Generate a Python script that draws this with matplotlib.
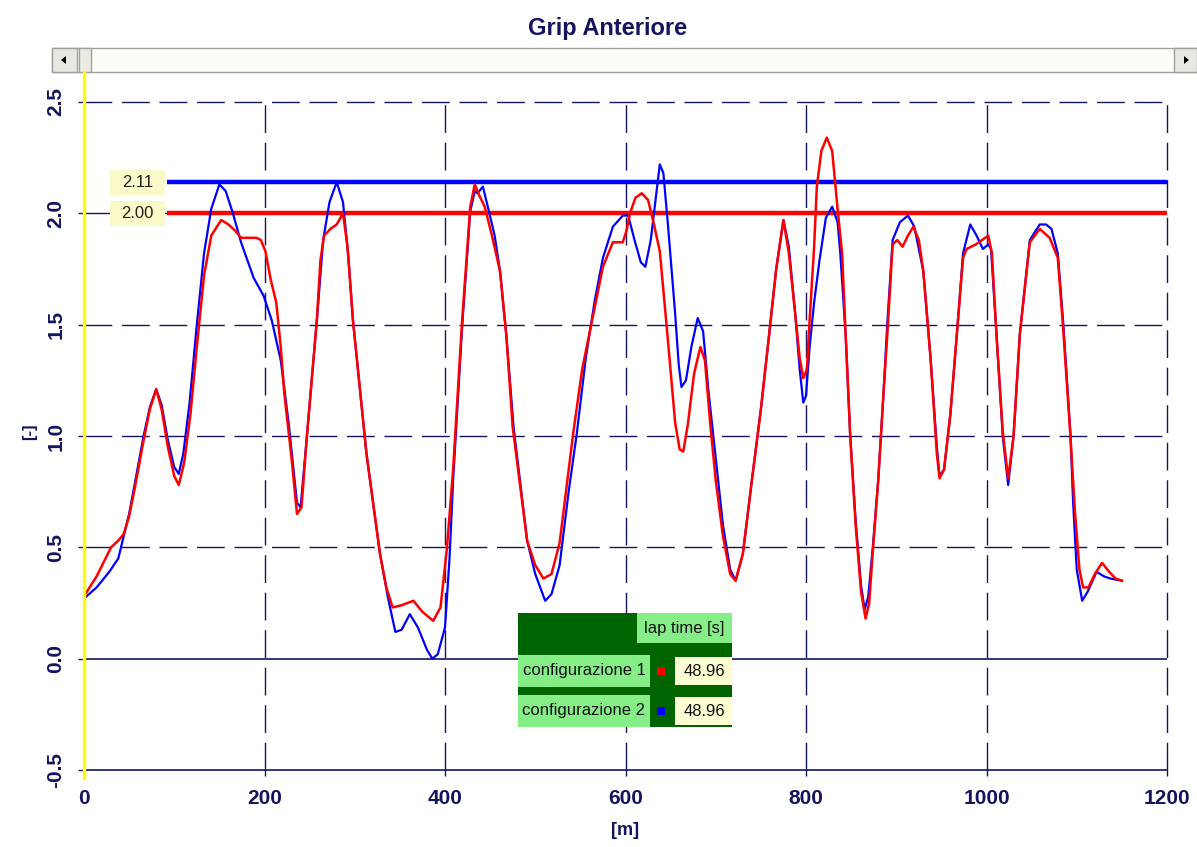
import numpy as np
import matplotlib
matplotlib.use('Agg')
import matplotlib.pyplot as plt
from matplotlib.patches import Rectangle, Polygon

plt.rcParams['font.family'] = ['Liberation Sans', 'DejaVu Sans']

# configurazione 2 (blue)
dist_blue = [0, 14, 28, 38, 44, 50, 56, 66, 73, 80, 86, 93, 100, 105, 110, 117, 125, 133,
             141, 150, 157, 165, 174, 181, 188, 199, 208, 218, 227, 236, 240, 247, 258,
             265, 272, 280, 287, 293, 298, 313, 328, 337, 345, 352, 361, 370, 380, 386,
             392, 400, 405, 409, 419, 428, 433, 436, 442, 448, 455, 461, 468, 476, 491,
             500, 511, 518, 527, 537, 546, 556, 566, 575, 586, 597, 603, 610, 617, 622,
             628, 633, 638, 642, 647, 651, 655, 659, 662, 667, 673, 680, 686, 692, 700,
             708, 716, 722, 730, 740, 750, 759, 767, 775, 781, 788, 793, 797, 800, 804,
             809, 815, 822, 829, 835, 838, 844, 849, 855, 861, 865, 869, 874, 880, 886,
             890, 896, 904, 913, 920, 930, 938, 945, 948, 953, 960, 968, 974, 982, 989,
             996, 1002, 1005, 1011, 1018, 1024, 1030, 1037, 1048, 1059, 1066, 1072, 1079,
             1085, 1093, 1096, 1100, 1106, 1112, 1122, 1130, 1137, 1150]
grip_blue = [0.27, 0.32, 0.39, 0.45, 0.55, 0.65, 0.78, 1.00, 1.13, 1.21, 1.14, 0.98, 0.86,
             0.83, 0.92, 1.15, 1.50, 1.82, 2.02, 2.13, 2.10, 2.00, 1.87, 1.79, 1.71, 1.63,
             1.52, 1.34, 1.05, 0.70, 0.68, 1.00, 1.52, 1.88, 2.05, 2.14, 2.05, 1.80, 1.52,
             0.92, 0.47, 0.27, 0.12, 0.13, 0.20, 0.14, 0.04, 0.00, 0.02, 0.14, 0.45, 0.80,
             1.49, 2.01, 2.10, 2.09, 2.12, 2.02, 1.90, 1.74, 1.45, 1.04, 0.53, 0.38, 0.26,
             0.29, 0.42, 0.75, 1.01, 1.35, 1.61, 1.80, 1.94, 1.99, 1.99, 1.88, 1.78, 1.76,
             1.88, 2.05, 2.22, 2.18, 1.95, 1.75, 1.55, 1.32, 1.22, 1.25, 1.40, 1.53, 1.47,
             1.20, 0.90, 0.60, 0.40, 0.35, 0.47, 0.80, 1.12, 1.45, 1.75, 1.97, 1.85, 1.55,
             1.30, 1.15, 1.18, 1.40, 1.60, 1.79, 1.98, 2.03, 1.96, 1.82, 1.45, 1.00, 0.62,
             0.33, 0.22, 0.28, 0.50, 0.80, 1.20, 1.50, 1.88, 1.96, 1.99, 1.94, 1.74, 1.35,
             0.95, 0.82, 0.85, 1.10, 1.50, 1.82, 1.95, 1.90, 1.84, 1.86, 1.84, 1.46, 1.00,
             0.78, 1.00, 1.46, 1.88, 1.95, 1.95, 1.93, 1.82, 1.51, 1.01, 0.70, 0.40, 0.26,
             0.30, 0.39, 0.37, 0.36, 0.35]

# configurazione 1 (red)
dist_red = [0, 14, 30, 38, 44, 50, 56, 66, 73, 80, 86, 93, 100, 105, 111, 118, 125, 133,
            141, 152, 160, 168, 174, 182, 191, 196, 201, 207, 213, 218, 222, 230, 236, 241,
            247, 258, 262, 266, 273, 280, 287, 292, 298, 313, 328, 335, 342, 352, 365, 375,
            387, 395, 402, 409, 419, 428, 433, 438, 444, 452, 461, 468, 475, 491, 500, 509,
            518, 527, 535, 542, 552, 566, 575, 586, 597, 601, 605, 611, 618, 625, 631, 638,
            647, 655, 660, 664, 669, 676, 683, 688, 694, 700, 708, 716, 722, 730, 740, 750,
            759, 767, 775, 781, 788, 793, 797, 801, 804, 809, 812, 817, 823, 829, 835, 840,
            844, 849, 855, 861, 866, 870, 874, 880, 886, 890, 896, 901, 907, 913, 919, 925,
            930, 938, 945, 948, 953, 960, 968, 974, 978, 988, 995, 1002, 1006, 1011, 1018,
            1024, 1030, 1037, 1048, 1059, 1070, 1079, 1085, 1093, 1098, 1103, 1107, 1113,
            1120, 1128, 1136, 1143, 1150]
grip_red = [0.28, 0.37, 0.50, 0.53, 0.56, 0.64, 0.76, 0.98, 1.12, 1.21, 1.12, 0.95, 0.82,
            0.78, 0.88, 1.10, 1.40, 1.72, 1.90, 1.97, 1.95, 1.92, 1.89, 1.89, 1.89, 1.88,
            1.83, 1.70, 1.60, 1.40, 1.19, 0.90, 0.65, 0.68, 1.00, 1.52, 1.79, 1.90, 1.93,
            1.95, 2.00, 1.85, 1.52, 0.92, 0.47, 0.32, 0.23, 0.24, 0.26, 0.21, 0.17, 0.23,
            0.49, 0.85, 1.52, 2.03, 2.13, 2.08, 2.03, 1.90, 1.74, 1.45, 1.04, 0.53, 0.42,
            0.36, 0.38, 0.52, 0.78, 1.01, 1.30, 1.58, 1.76, 1.87, 1.87, 1.92, 2.00, 2.07,
            2.09, 2.06, 1.96, 1.83, 1.43, 1.06, 0.94, 0.93, 1.05, 1.28, 1.40, 1.34, 1.05,
            0.80, 0.55, 0.38, 0.35, 0.47, 0.80, 1.12, 1.45, 1.75, 1.97, 1.82, 1.55, 1.35,
            1.26, 1.30, 1.52, 1.85, 2.12, 2.28, 2.34, 2.28, 2.02, 1.82, 1.45, 1.00, 0.60,
            0.30, 0.18, 0.25, 0.48, 0.80, 1.20, 1.45, 1.86, 1.88, 1.85, 1.90, 1.94, 1.88,
            1.74, 1.35, 0.92, 0.81, 0.85, 1.10, 1.50, 1.80, 1.84, 1.86, 1.88, 1.90, 1.82,
            1.46, 1.02, 0.81, 1.00, 1.46, 1.87, 1.93, 1.89, 1.80, 1.48, 1.00, 0.66, 0.40,
            0.32, 0.32, 0.38, 0.43, 0.39, 0.36, 0.35]

max_levels = [2.14, 2.00]
max_labels = ['2.11', '2.00']
max_colors = ['#0000ff', '#ff0000']

config_names = ['configurazione 1', 'configurazione 2']
config_colors = ['#ff0000', '#0000ff']
lap_times = ['48.96', '48.96']

xticks = [0, 200, 400, 600, 800, 1000, 1200]
yticks = [-0.5, 0.0, 0.5, 1.0, 1.5, 2.0, 2.5]

navy = '#14145f'
W, H = 1197, 847
fig = plt.figure(figsize=(W / 100, H / 100), dpi=100)
ax = fig.add_axes([84 / W, (H - 770) / H, 1083 / W, 668 / H])
ax.set_xlim(0, 1200)
ax.set_ylim(-0.5, 2.5)

# grid
for x in xticks[1:]:
    ax.axvline(x, color=navy, lw=1.0, ls=(0, (20, 7)), zorder=1, clip_on=False)
for y in yticks[2:]:
    ax.axhline(y, color=navy, lw=1.0, ls=(0, (20, 7)), zorder=1, clip_on=False)
ax.axhline(0.0, color=navy, lw=1.2, zorder=1)

for s in ['top', 'right', 'left']:
    ax.spines[s].set_visible(False)
ax.spines['bottom'].set_color(navy)
ax.spines['bottom'].set_linewidth(1.2)

ax.set_xticks(xticks)
ax.set_yticks(yticks)
ax.set_xticklabels([str(v) for v in xticks])
ax.set_yticklabels(['%.1f' % v for v in yticks], rotation=90, va='center')
ax.tick_params(axis='both', colors=navy, length=4.5, width=1.0, labelsize=15)
ax.tick_params(axis='x', pad=9)
ax.tick_params(axis='y', pad=9)
for lab in ax.get_xticklabels() + ax.get_yticklabels():
    lab.set_fontweight('bold')
    lab.set_color(navy)

# max lines with value boxes
for lvl, lab, col in zip(max_levels, max_labels, max_colors):
    ax.plot([92, 1200], [lvl, lvl], color=col, lw=3.2, zorder=3, solid_capstyle='butt')
    ax.add_patch(Rectangle((29, lvl - 0.056), 61, 0.112, fc='#fafac8', ec='none', zorder=5))
    ax.text(59, lvl, lab, ha='center', va='center', fontsize=12, color='#222222', zorder=6)

ax.plot(dist_blue, grip_blue, color='#0000ff', lw=1.6, zorder=4)
ax.plot(dist_red, grip_red, color='#ff0000', lw=1.8, zorder=4)

ax.set_xlabel('[m]', fontsize=13, fontweight='bold', color=navy)
ax.set_ylabel('[-]', fontsize=12, fontweight='bold', color=navy)
ax.xaxis.set_label_coords((625 - 84) / 1083, (770 - 822) / 668)
ax.yaxis.set_label_coords((37 - 84) / 1083, (770 - 432) / 668)

# overlay in pixel coordinates for title, scrollbar and lap-time table
ov = fig.add_axes([0, 0, 1, 1], zorder=10)
ov.set_xlim(0, W)
ov.set_ylim(H, 0)
ov.axis('off')

ov.text(608, 29, 'Grip Anteriore', ha='center', va='center', fontsize=17,
        fontweight='bold', color=navy)

# scrollbar
ov.add_patch(Rectangle((52, 48), 1145, 24, fc='#fdfdf8', ec='#a0a0a0', lw=1))
ov.add_patch(Rectangle((52, 48), 25, 24, fc='#e8e8e0', ec='#a0a0a0', lw=1))
ov.add_patch(Rectangle((79, 48), 12, 24, fc='#ecece4', ec='#a0a0a0', lw=1))
ov.add_patch(Rectangle((1174, 48), 23, 24, fc='#e8e8e0', ec='#a0a0a0', lw=1))
ov.add_patch(Polygon([[61, 60], [66, 56], [66, 64]], fc='black', ec='none'))
ov.add_patch(Polygon([[1189, 60], [1184, 56], [1184, 64]], fc='black', ec='none'))

# yellow cursor at x = 0
ov.plot([84, 84], [72, 778], color='#ffff00', lw=2.4)

# lap time table
ov.add_patch(Rectangle((518, 613), 214, 114, fc='#006400', ec='none'))
ov.add_patch(Rectangle((637, 613), 95, 30, fc='#86ee86', ec='none'))
ov.text(684, 628, 'lap time [s]', ha='center', va='center', fontsize=12, color='#111111')
for i, (name, col, t) in enumerate(zip(config_names, config_colors, lap_times)):
    y0 = 655 + i * 40
    ov.add_patch(Rectangle((518, y0), 132, 32, fc='#86ee86', ec='none'))
    ov.text(584, y0 + 16, name, ha='center', va='center', fontsize=12, color='#111111')
    ov.add_patch(Rectangle((657, y0 + 12), 8, 8, fc=col, ec='none'))
    ov.add_patch(Rectangle((675, y0 + 2), 57, 28, fc='#fefed2', ec='none'))
    ov.text(704, y0 + 16, t, ha='center', va='center', fontsize=12, color='#111111')

fig.savefig('out.png', dpi=100)
